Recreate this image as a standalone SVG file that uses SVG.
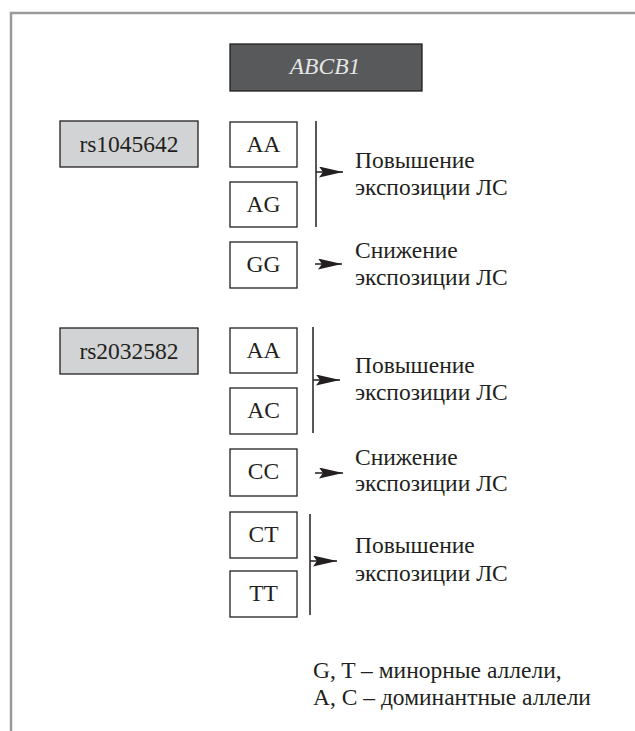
<svg xmlns="http://www.w3.org/2000/svg" width="635" height="731" viewBox="0 0 635 731">
<defs>
<style>
.frame{fill:none;stroke:#9a9a9a;stroke-width:2.5}
.box{fill:#fff;stroke:#231f20;stroke-width:1.3}
.gray{fill:#d1d3d4;stroke:#231f20;stroke-width:1.3}
.dark{fill:#58595b;stroke:#231f20;stroke-width:1.3}
.t{font-family:"Liberation Serif","Times New Roman",serif;font-size:23.5px;fill:#231f20}
.c{text-anchor:middle}
.title{font-family:"Liberation Serif","Times New Roman",serif;font-size:23.5px;font-style:italic;fill:#e6e6e6;text-anchor:middle}
.ln{stroke:#231f20;stroke-width:1.5;fill:none}
</style>
<marker id="ah" viewBox="0 0 24 11" refX="24" refY="5.5" markerWidth="24" markerHeight="11" markerUnits="userSpaceOnUse" orient="auto">
<path d="M0,0 L24,5.5 L0,11 L4,5.5 z" fill="#231f20"/>
</marker>
</defs>
<rect width="635" height="731" fill="#fff"/>
<path class="frame" d="M11,731 V13 H635"/>

<g id="gene">
<rect class="dark" x="230" y="44" width="192" height="47"/>
<text class="title" x="325" y="74">ABCB1</text>
</g>

<g id="rs1045642">
<rect class="gray" x="60" y="121" width="138" height="46"/>
<text class="t c" x="129" y="152">rs1045642</text>
</g>
<g id="g1-AA"><rect class="box" x="230" y="122" width="67" height="45"/><text class="t c" x="263.5" y="152">AA</text></g>
<g id="g1-AG"><rect class="box" x="230" y="182" width="67" height="45"/><text class="t c" x="263.5" y="212">AG</text></g>
<g id="g1-GG"><rect class="box" x="230" y="242" width="67" height="46"/><text class="t c" x="263.5" y="272">GG</text></g>
<g id="r1-up"><text class="t" x="355" y="168">Повышение</text><text class="t" x="355" y="195">экспозиции ЛС</text></g>
<g id="r1-down"><text class="t" x="355" y="258">Снижение</text><text class="t" x="355" y="285">экспозиции ЛС</text></g>

<g id="rs2032582">
<rect class="gray" x="60" y="328" width="138" height="46"/>
<text class="t c" x="129" y="359">rs2032582</text>
</g>
<g id="g2-AA"><rect class="box" x="230" y="328" width="67" height="45"/><text class="t c" x="263.5" y="358">AA</text></g>
<g id="g2-AC"><rect class="box" x="230" y="388" width="67" height="46"/><text class="t c" x="263.5" y="418">AC</text></g>
<g id="g2-CC"><rect class="box" x="230" y="449" width="67" height="47"/><text class="t c" x="263.5" y="479">CC</text></g>
<g id="g2-CT"><rect class="box" x="230" y="512" width="67" height="46"/><text class="t c" x="263.5" y="542">CT</text></g>
<g id="g2-TT"><rect class="box" x="230" y="571" width="67" height="46"/><text class="t c" x="263.5" y="601">TT</text></g>
<g id="r2-up"><text class="t" x="355" y="373">Повышение</text><text class="t" x="355" y="400">экспозиции ЛС</text></g>
<g id="r2-down"><text class="t" x="355" y="465">Снижение</text><text class="t" x="355" y="491">экспозиции ЛС</text></g>
<g id="r3-up"><text class="t" x="355" y="553">Повышение</text><text class="t" x="355" y="581">экспозиции ЛС</text></g>

<g id="connectors">
<line class="ln" x1="316" y1="121" x2="316" y2="227"/>
<line class="ln" x1="316" y1="172" x2="343" y2="172" marker-end="url(#ah)"/>
<line class="ln" x1="315" y1="264" x2="342" y2="264" marker-end="url(#ah)"/>
<line class="ln" x1="313" y1="327" x2="313" y2="433"/>
<line class="ln" x1="313" y1="380" x2="340" y2="380" marker-end="url(#ah)"/>
<line class="ln" x1="315" y1="473" x2="343" y2="473" marker-end="url(#ah)"/>
<line class="ln" x1="310" y1="514" x2="310" y2="615"/>
<line class="ln" x1="310" y1="561" x2="337" y2="561" marker-end="url(#ah)"/>
</g>

<g id="legend">
<text class="t" x="313" y="678">G, T – минорные аллели,</text>
<text class="t" x="313" y="705">A, C – доминантные аллели</text>
</g>
</svg>
